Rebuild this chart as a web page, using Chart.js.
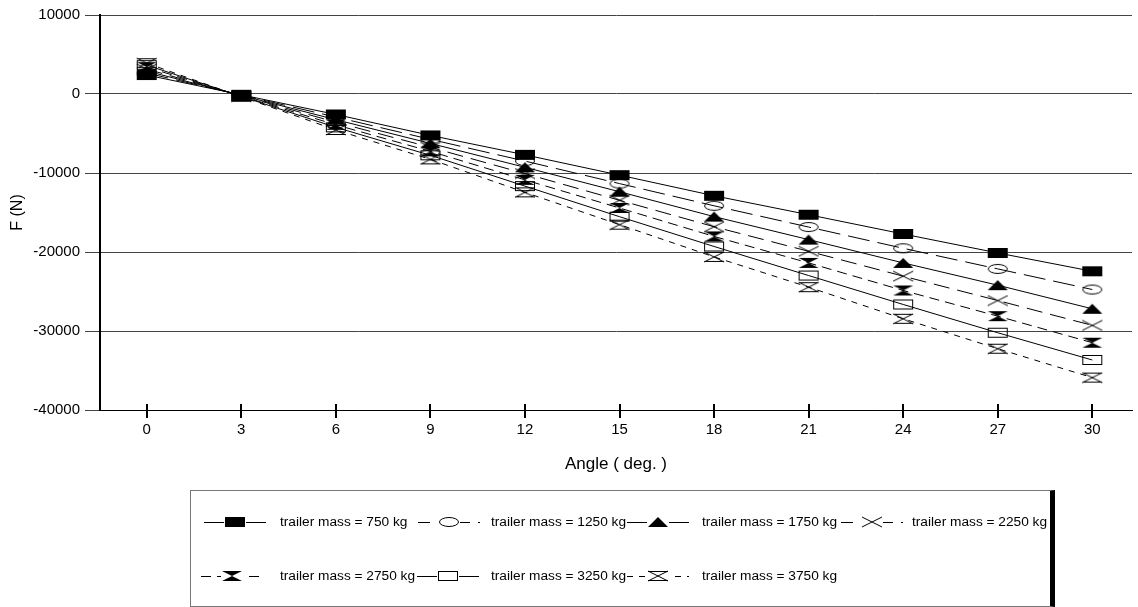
<!DOCTYPE html>
<html>
<head>
<meta charset="utf-8">
<script src="https://cdn.jsdelivr.net/npm/chart.js@4.4.1/dist/chart.umd.min.js"></script>
<style>
  html, body { margin: 0; padding: 0; background: #fff; }
  #wrap { position: relative; width: 1138px; height: 607px; overflow: hidden; }
  #chart { position: absolute; left: 0; top: 0; }
  #legend { position: absolute; left: 190px; top: 490px; width: 865px; height: 117px; box-sizing: border-box;
            border: 1px solid #777; border-right: 5px solid #000; background: transparent; }
  .lg-sym { position: absolute; }
  .lg-txt { position: absolute; font-family: "Liberation Sans", Arial, sans-serif; font-size: 13.7px; color: #000; white-space: nowrap; line-height: 16px; }
</style>
</head>
<body>
<div id="wrap">
  <canvas id="chart" width="1138" height="607"></canvas>
  <div id="legend"></div>
</div>
<script>
// ---- data ----
const angles = [0, 3, 6, 9, 12, 15, 18, 21, 24, 27, 30];
const seriesNames = ['trailer mass = 750 kg', 'trailer mass = 1250 kg', 'trailer mass = 1750 kg', 'trailer mass = 2250 kg',
                     'trailer mass = 2750 kg', 'trailer mass = 3250 kg', 'trailer mass = 3750 kg'];
const m750  = [2400, -100, -2590, -5240, -7700, -10270, -12880, -15280, -17720, -20120, -22440];
const m1250 = [2650, -140, -2920, -5740, -8490, -11340, -14150, -16840, -19530, -22140, -24750];
const m1750 = [2900, -180, -3250, -6250, -9280, -12370, -15520, -18430, -21380, -24200, -27190];
const m2250 = [3150, -220, -3570, -6750, -10070, -13450, -16800, -19910, -23060, -26140, -29290];
const m2750 = [3400, -260, -3900, -7260, -10870, -14430, -18030, -21380, -24870, -28120, -31480];
const m3250 = [3650, -300, -4220, -7760, -11660, -15530, -19300, -22980, -26640, -30220, -33670];
const m3750 = [3900, -340, -4550, -8270, -12450, -16540, -20620, -24450, -28450, -32240, -35900];
const yTicks = [10000, 0, -10000, -20000, -30000, -40000];

const seriesValues = [m750, m1250, m1750, m2250, m2750, m3250, m3750];

// ---- styles ----
const markerKinds = ['sqf', 'ell', 'tri', 'x', 'hgf', 'sqo', 'hgo'];
const dashes = [[], [22, 8], [], [16, 8], [10, 6], [], [6, 6]];

function makeMarker(kind) {
  const c = document.createElement('canvas');
  c.width = 22; c.height = 12;
  const g = c.getContext('2d');
  g.strokeStyle = '#000'; g.fillStyle = '#000'; g.lineWidth = 1;
  const L = 1, R = 21, T = 1, B = 11, CX = 11, CY = 6;
  g.beginPath();
  switch (kind) {
    case 'sqf': g.fillRect(L, T, 20, 10); break;
    case 'ell': g.ellipse(CX, CY, 9.5, 4.5, 0, 0, Math.PI * 2); g.stroke(); break;
    case 'tri': g.moveTo(L, B); g.lineTo(R, B); g.lineTo(CX, T); g.closePath(); g.fill(); break;
    case 'x': g.moveTo(L, T); g.lineTo(R, B); g.moveTo(R, T); g.lineTo(L, B); g.stroke(); break;
    case 'hgf': g.moveTo(L, T); g.lineTo(R, T); g.lineTo(CX, CY); g.lineTo(R, B); g.lineTo(L, B); g.lineTo(CX, CY); g.closePath(); g.fill(); break;
    case 'sqo': g.strokeRect(L + 0.5, T + 0.5, 19, 9); break;
    case 'hgo': g.moveTo(L, T + 0.5); g.lineTo(R, T + 0.5); g.moveTo(L, B - 0.5); g.lineTo(R, B - 0.5);
                g.moveTo(L, T); g.lineTo(R, B); g.moveTo(R, T); g.lineTo(L, B); g.stroke(); break;
  }
  return c;
}
const markers = markerKinds.map(makeMarker);

const datasets = seriesValues.map((vals, i) => ({
  label: seriesNames[i],
  data: angles.map((a, k) => ({ x: a, y: vals[k] })),
  borderColor: '#000',
  backgroundColor: '#000',
  borderWidth: 1,
  borderDash: dashes[i],
  pointStyle: markers[i],
  pointRadius: 5,
  pointHoverRadius: 5,
  tension: 0,
  fill: false,
  order: -i
}));

const xTickPlugin = {
  id: 'xTickMarks',
  afterDraw(chart) {
    const xs = chart.scales.x, ctx = chart.ctx, b = chart.chartArea.bottom;
    ctx.save();
    ctx.strokeStyle = '#000'; ctx.lineWidth = 2;
    xs.ticks.forEach(t => {
      const px = Math.round(xs.getPixelForValue(t.value));
      ctx.beginPath(); ctx.moveTo(px, b - 6); ctx.lineTo(px, b + 8); ctx.stroke();
    });
    ctx.restore();
  }
};

const FONT = '"Liberation Sans", Arial, sans-serif';
new Chart(document.getElementById('chart'), {
  type: 'line',
  data: { datasets },
  options: {
    responsive: false,
    animation: false,
    events: [],
    layout: { padding: { top: 15, right: 0, left: 0, bottom: 133 } },
    plugins: { legend: { display: false }, tooltip: { enabled: false } },
    scales: {
      x: {
        type: 'linear', min: -1.483, max: 31.26,
        afterBuildTicks(s) { s.ticks = angles.map(v => ({ value: v })); },
        afterFit(s) { s.height = 64; },
        grid: { display: false },
        border: { display: true, color: '#000', width: 1 },
        ticks: { color: '#000', font: { family: FONT, size: 15 }, padding: 3, maxRotation: 0, autoSkip: false,
                 callback: v => String(v) },
        title: { display: true, text: 'Angle ( deg. )', color: '#000', font: { family: FONT, size: 17 }, padding: { top: 0, bottom: -1 } }
      },
      y: {
        min: -40000, max: 10000,
        afterBuildTicks(s) { s.ticks = yTicks.map(v => ({ value: v })); },
        afterFit(s) { s.width = 100; },
        grid: { color: '#444', lineWidth: 1, tickLength: 15 },
        border: { display: true, color: '#000', width: 2 },
        ticks: { color: '#000', font: { family: FONT, size: 15 }, padding: 5, callback: v => String(v) },
        title: { display: true, text: 'F (N)', color: '#000', font: { family: FONT, size: 16 }, padding: { top: 8, bottom: 0 } }
      }
    }
  },
  plugins: [xTickPlugin]
});

// ---- legend (HTML) ----
const legend = document.getElementById('legend');
const LX = 190, LY = 490;
const lgPos = [
  { mx: 235, tx: 280, y: 522 }, { mx: 449, tx: 491, y: 522 }, { mx: 658, tx: 702, y: 522 }, { mx: 872, tx: 912, y: 522 },
  { mx: 232, tx: 280, y: 576 }, { mx: 448, tx: 491, y: 576 }, { mx: 658, tx: 702, y: 576 }
];
lgPos.forEach((p, i) => {
  const c = document.createElement('canvas');
  c.width = 64; c.height = 14; c.className = 'lg-sym';
  c.style.left = (p.mx - 32 - LX - 1) + 'px';
  c.style.top = (p.y - 7 - LY - 1) + 'px';
  const g = c.getContext('2d');
  g.strokeStyle = '#000'; g.lineWidth = 1; g.setLineDash(dashes[i].map(d => Math.min(d, 12)));
  g.beginPath(); g.moveTo(1, 7.5); g.lineTo(63, 7.5); g.stroke();
  g.setLineDash([]);
  g.clearRect(21, 1, 22, 12);
  g.drawImage(markers[i], 21, 1);
  legend.appendChild(c);
  const t = document.createElement('div');
  t.className = 'lg-txt';
  t.textContent = seriesNames[i];
  t.style.left = (p.tx - LX - 1) + 'px';
  t.style.top = (p.y - 8 - LY - 1) + 'px';
  legend.appendChild(t);
});
</script>
</body>
</html>
